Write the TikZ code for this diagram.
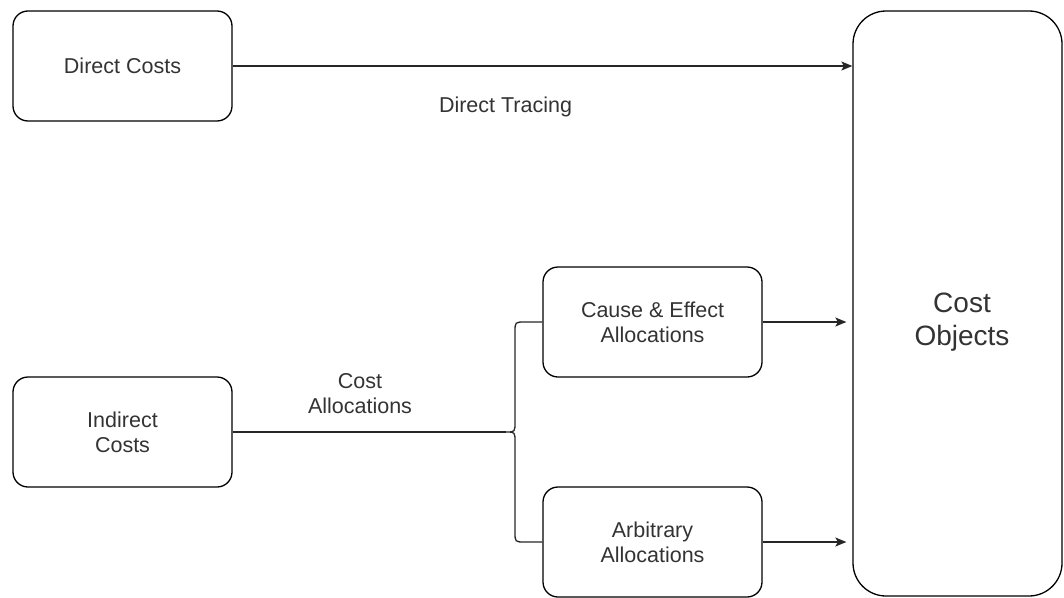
\documentclass[tikz,border=0pt]{standalone}
\usepackage{fontspec}
\setmainfont{Liberation Sans}
\usetikzlibrary{arrows.meta}
\begin{document}
\begin{tikzpicture}[x=1pt,y=-1pt,
  costbox/.style={draw=black, line width=1.3pt, rounded corners=15pt,
    minimum width=219pt, minimum height=110pt, inner sep=0pt,
    align=center, text=black!80, font=\fontsize{21.5}{25}\selectfont},
  lbl/.style={text=black!80, align=center, inner sep=0pt,
    font=\fontsize{21.5}{25}\selectfont},
  link/.style={line width=1.3pt, draw=black!85},
  tip/.style={-{Stealth[length=11pt,width=9pt,inset=2.5pt]}}]
\useasboundingbox (0,0) rectangle (1064,597);

% cost sources
\node[costbox] (direct)   at (122.5,66)  {Direct Costs};
\node[costbox] (indirect) at (122.5,432) {Indirect\\Costs};

% allocation methods
\node[costbox] (cause) at (652.5,322) {Cause \& Effect\\Allocations};
\node[costbox] (arb)   at (652.5,542) {Arbitrary\\Allocations};

% cost objects
\node[draw=black, line width=1.3pt, rounded corners=33pt,
  minimum width=209pt, minimum height=585pt, inner sep=0pt]
  (objects) at (957.5,303.5) {};
\node[text=black!80, align=center, inner sep=0pt,
  font=\fontsize{28}{33}\selectfont] (objtext) at (962,322.5) {Cost\\Objects};

% direct tracing
\draw[link,tip] (direct.east) -- (direct.east -| objects.west);
\node[lbl, anchor=base] (tracing) at (505.5,112) {Direct Tracing};

% indirect cost allocation with brace split
\coordinate (cusp) at (506,432);
\draw[link] (indirect.east) -- (cusp);
\draw[link] (cause.west) -- (525,322) .. controls (515,322) .. (515,332)
  -- (515,422) .. controls (515,432) .. (cusp)
  .. controls (515,432) .. (515,442)
  -- (515,532) .. controls (515,542) .. (525,542) -- (arb.west);
\node[lbl] (alloc) at (360,393.5) {Cost\\Allocations};

% allocations to cost objects
\draw[link,tip,shorten >=6pt] (cause.east) -- (cause.east -| objects.west);
\draw[link,tip,shorten >=6pt] (arb.east) -- (arb.east -| objects.west);
\end{tikzpicture}
\end{document}
